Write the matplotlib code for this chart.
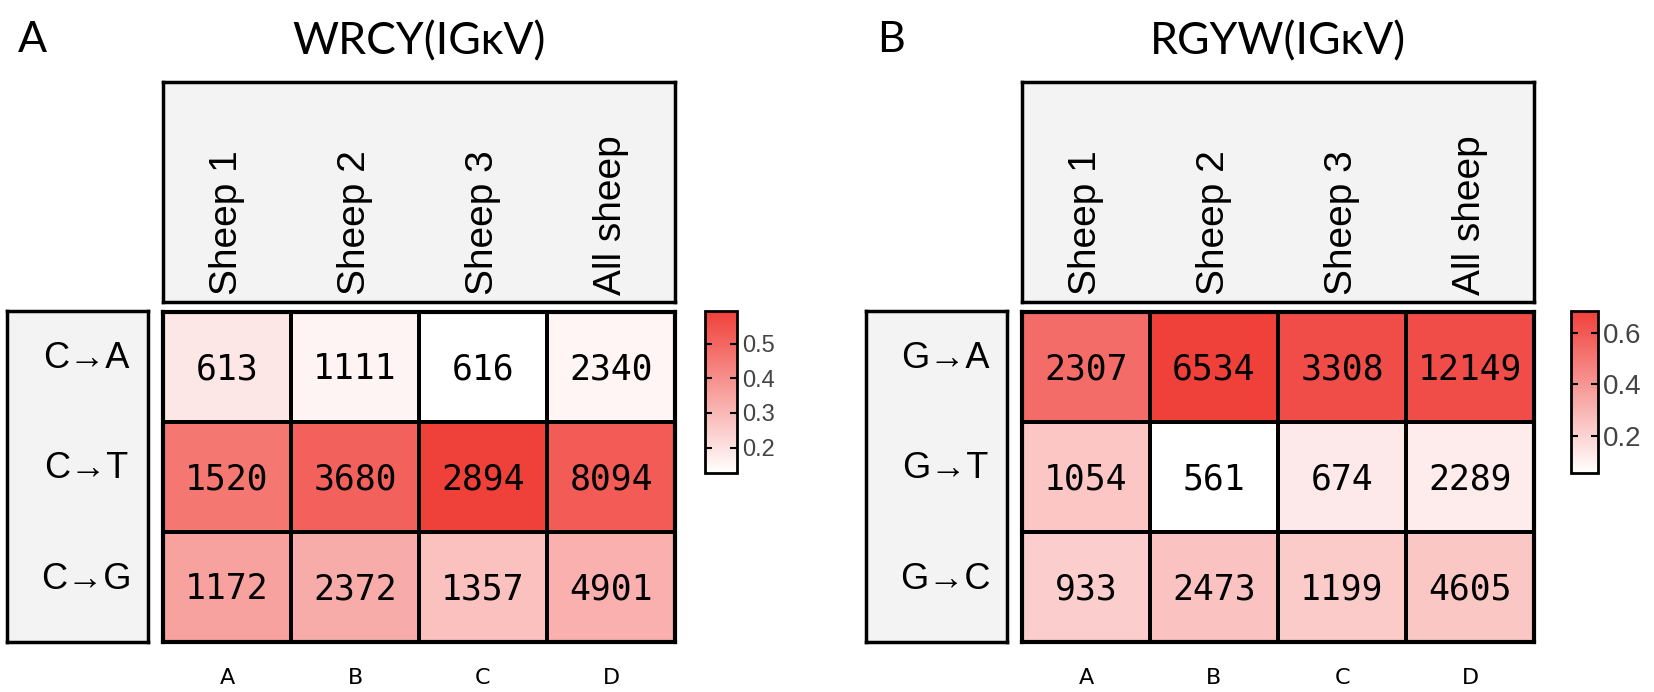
import numpy as np
import matplotlib
matplotlib.use("Agg")
import matplotlib.pyplot as plt
from matplotlib.colors import LinearSegmentedColormap

# data
sheep = ["Sheep 1", "Sheep 2", "Sheep 3", "All sheep"]
col_letters = ["A", "B", "C", "D"]

wrcy_rows = ["C\u2192A", "C\u2192T", "C\u2192G"]
wrcy_counts = np.array([
    [613, 1111, 616, 2340],
    [1520, 3680, 2894, 8094],
    [1172, 2372, 1357, 4901],
])

rgyw_rows = ["G\u2192A", "G\u2192T", "G\u2192C"]
rgyw_counts = np.array([
    [2307, 6534, 3308, 12149],
    [1054, 561, 674, 2289],
    [933, 2473, 1199, 4605],
])

W, H = 1654, 692
fig = plt.figure(figsize=(W / 100, H / 100), dpi=100)
cmap = LinearSegmentedColormap.from_list("wr", ["#FFFFFF", "#F0403A"])
strip_bg = "#F3F3F3"


def box(x0, y0, x1, y1):
    # pixel box -> figure fraction rect
    return [x0 / W, 1 - y1 / H, (x1 - x0) / W, (y1 - y0) / H]


def strip_axes(rect):
    ax = fig.add_axes(rect)
    ax.set_facecolor(strip_bg)
    ax.set_xticks([])
    ax.set_yticks([])
    for s in ax.spines.values():
        s.set_linewidth(2.5)
    return ax


def panel(x0, letter, title, rows, counts, cb_x, cb_w, cb_ticks, cb_fs):
    hx0, hx1 = x0, x0 + 512
    props = counts / counts.sum(axis=0)

    fig.text((x0 - 131) / W, 1 - 40 / H, letter, fontsize=31,
             family=["Lato", "DejaVu Sans"], va="center", ha="center")
    fig.text((hx0 + hx1) / 2 / W, 1 - 42 / H, title, fontsize=32,
             family=["Lato", "DejaVu Sans"], va="center", ha="center")

    # column header strip
    hdr = strip_axes(box(hx0, 82, hx1, 302))
    hdr.set_xlim(0, 4)
    hdr.set_ylim(0, 1)
    for i, name in enumerate(sheep):
        hdr.text(i + 0.5, 0.03, name, rotation=90, ha="center", va="bottom",
                 fontsize=28, family="Liberation Sans")

    # row strip
    rs = strip_axes(box(x0 - 156, 311, x0 - 15, 642))
    rs.set_xlim(0, 1)
    rs.set_ylim(3, 0)
    for j, r in enumerate(rows):
        rs.text(0.56, j + 0.43, r, ha="center", va="center",
                fontsize=26, family=["Liberation Sans", "DejaVu Sans"])

    # heatmap
    ax = fig.add_axes(box(hx0, 312, hx1, 642))
    mesh = ax.pcolormesh(props, cmap=cmap, vmin=props.min(), vmax=props.max(),
                         edgecolors="black", linewidth=1.5)
    ax.set_xlim(0, 4)
    ax.set_ylim(3, 0)
    for j in range(counts.shape[0]):
        for i in range(counts.shape[1]):
            ax.text(i + 0.5, j + 0.52, str(counts[j, i]), ha="center",
                    va="center", fontsize=25, family="DejaVu Sans Mono")
    ax.set_xticks(np.arange(4) + 0.5)
    ax.set_xticklabels(col_letters, fontsize=16, family="DejaVu Sans")
    ax.tick_params(axis="x", length=0, pad=19)
    ax.set_yticks([])
    for s in ax.spines.values():
        s.set_linewidth(3)

    # colorbar
    cax = fig.add_axes(box(cb_x, 311, cb_x + cb_w, 473))
    cb = fig.colorbar(mesh, cax=cax, ticks=cb_ticks)
    cb.outline.set_linewidth(2)
    cax.tick_params(direction="in", left=True, right=True, length=5,
                    width=1.5, colors="black", labelsize=cb_fs, labelcolor="#444444")
    cax.set_yticklabels([f"{t:.1f}" for t in cb_ticks])
    for t in cax.get_yticklabels():
        t.set_family("Liberation Sans")


panel(163, "A", "WRCY(IG\u03baV)", wrcy_rows, wrcy_counts,
      705, 32, [0.2, 0.3, 0.4, 0.5], 17)
panel(1022, "B", "RGYW(IG\u03baV)", rgyw_rows, rgyw_counts,
      1571, 27, [0.2, 0.4, 0.6], 20)

fig.savefig("out.png", dpi=100)
